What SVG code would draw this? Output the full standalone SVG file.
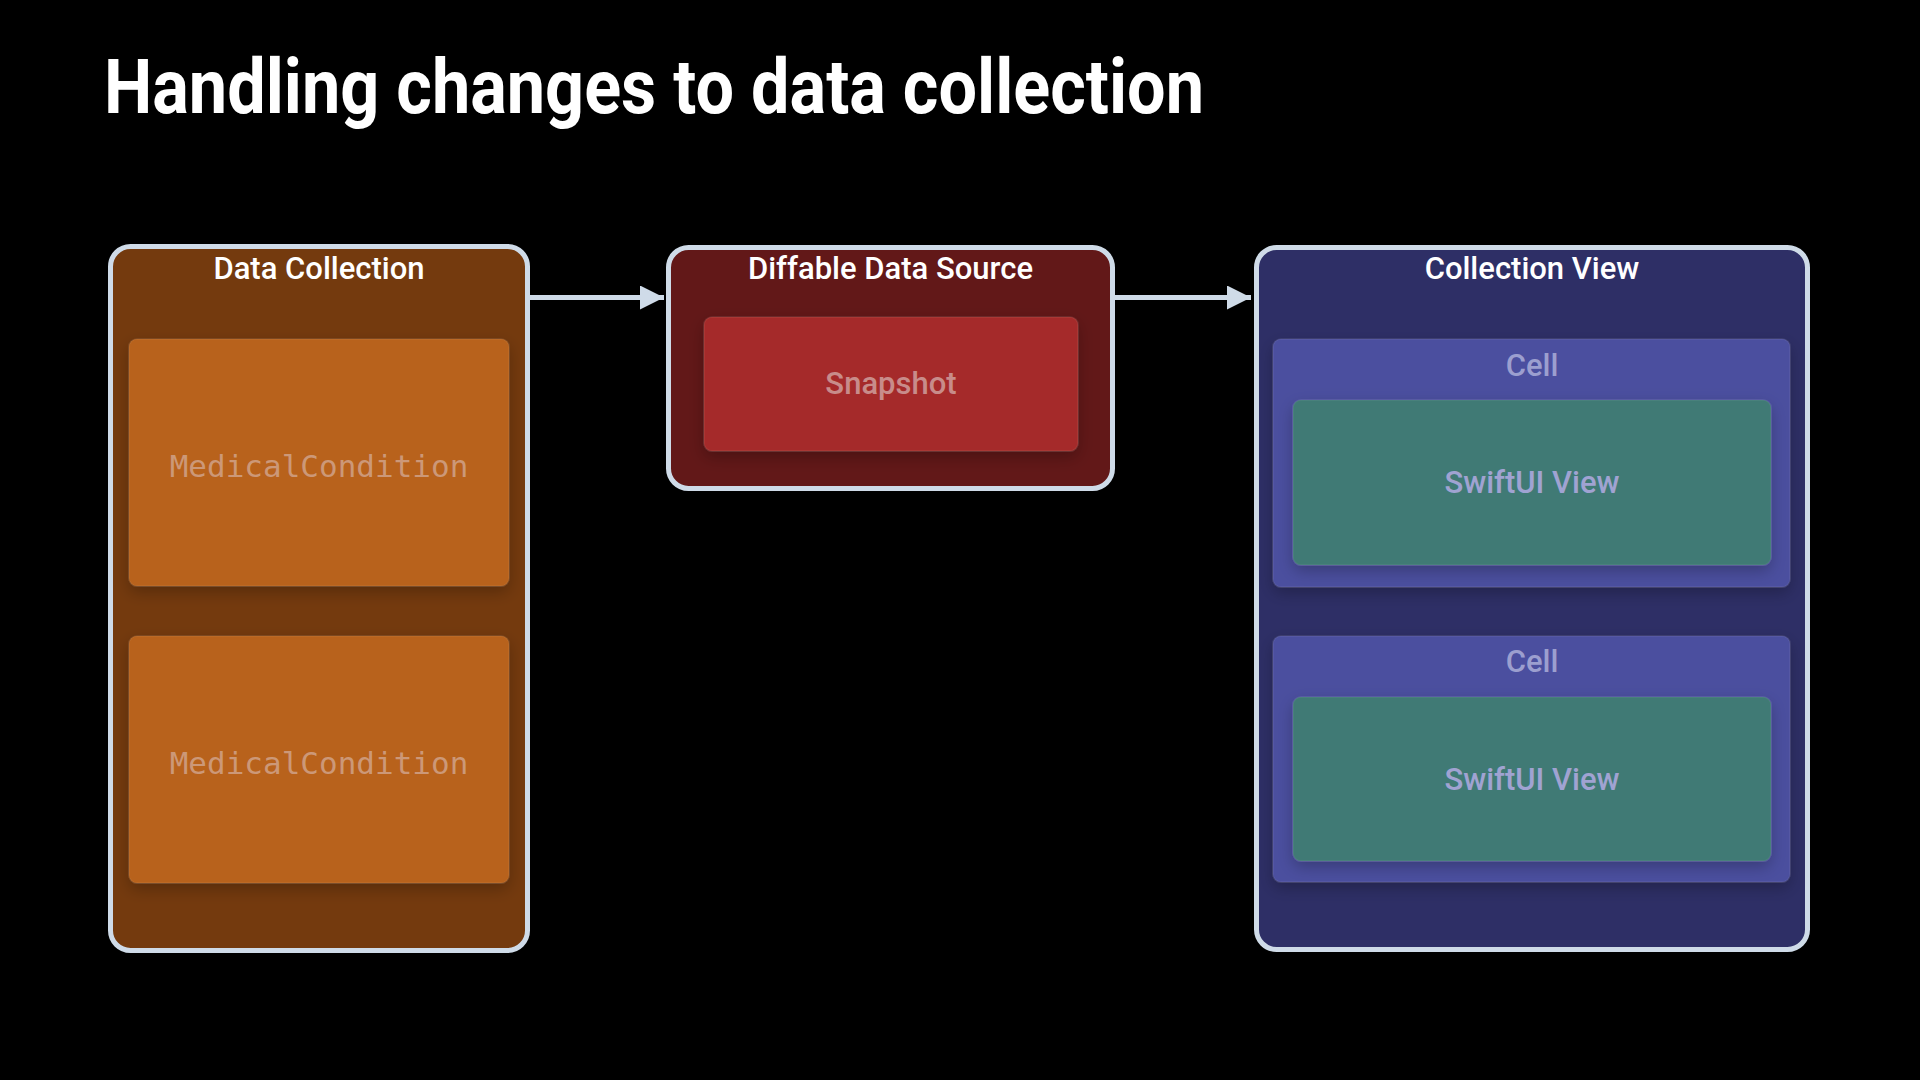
<svg xmlns="http://www.w3.org/2000/svg" width="1920" height="1080" viewBox="0 0 1920 1080">
<defs>
<style>
.title{font-family:Roboto,"Liberation Sans",sans-serif;font-weight:700;font-size:76px;fill:#ffffff}
.outer{stroke:#cfdbe8;stroke-width:5}
.head{font-family:Roboto,"Liberation Sans",sans-serif;font-weight:500;font-size:31px;fill:#ffffff;text-anchor:middle}
.lbl{font-family:Roboto,"Liberation Sans",sans-serif;font-weight:500;font-size:31px;text-anchor:middle}
.mono{font-family:"DejaVu Sans Mono","Liberation Mono",monospace;font-size:31px;fill:#cc9878;text-anchor:middle}
.inner{stroke:#ffffff;stroke-opacity:0.08;stroke-width:1.5}
.conn{stroke:#cfdbe8;stroke-width:5;fill:none}
</style>
<filter id="sh" x="-10%" y="-10%" width="120%" height="130%">
<feDropShadow dx="0" dy="6" stdDeviation="8" flood-color="#000" flood-opacity="0.25"/>
</filter>
<marker id="ah" viewBox="0 0 10 10" refX="10" refY="5" markerWidth="5" markerHeight="4.8" markerUnits="strokeWidth" orient="auto">
<path d="M0,0 L10,5 L0,10 Z" fill="#cfdbe8"/>
</marker>
</defs>
<rect width="1920" height="1080" fill="#000000"/>
<text class="title" x="104" y="113" textLength="1100" lengthAdjust="spacingAndGlyphs">Handling changes to data collection</text>

<g id="connectors">
<line class="conn" x1="530" y1="297.5" x2="664" y2="297.5" marker-end="url(#ah)"/>
<line class="conn" x1="1115" y1="297.5" x2="1251" y2="297.5" marker-end="url(#ah)"/>
</g>

<g id="data-collection">
<rect class="outer" x="110.5" y="246.5" width="417" height="704" rx="20" fill="#743a0e"/>
<text class="head" x="319" y="279">Data Collection</text>
</g>
<g id="medical-condition-1">
<rect class="inner" x="129" y="339" width="380" height="247" rx="8" fill="#b8621a" filter="url(#sh)"/>
<text class="mono" x="319" y="477">MedicalCondition</text>
</g>
<g id="medical-condition-2">
<rect class="inner" x="129" y="636" width="380" height="247" rx="8" fill="#b8621a" filter="url(#sh)"/>
<text class="mono" x="319" y="774">MedicalCondition</text>
</g>

<g id="diffable-data-source">
<rect class="outer" x="668.5" y="247.5" width="444" height="241" rx="20" fill="#621818"/>
<text class="head" x="890.5" y="279">Diffable Data Source</text>
</g>
<g id="snapshot">
<rect class="inner" x="704" y="317" width="374" height="134" rx="8" fill="#a52c2a" filter="url(#sh)"/>
<text class="lbl" x="891" y="394" fill="#c88c8a">Snapshot</text>
</g>

<g id="collection-view">
<rect class="outer" x="1256.5" y="247.5" width="551" height="702" rx="20" fill="#2e2f66"/>
<text class="head" x="1532" y="279">Collection View</text>
</g>
<g id="cell-1">
<rect class="inner" x="1273" y="339" width="517" height="248" rx="8" fill="#4c4f9f" filter="url(#sh)"/>
<text class="lbl" x="1532" y="376" fill="#9c9fcf">Cell</text>
</g>
<g id="swiftui-view-1">
<rect class="inner" x="1293" y="400" width="478" height="165" rx="8" fill="#3f7a74" filter="url(#sh)"/>
<text class="lbl" x="1532" y="493" fill="#a0a3d2">SwiftUI View</text>
</g>
<g id="cell-2">
<rect class="inner" x="1273" y="636" width="517" height="246" rx="8" fill="#4c4f9f" filter="url(#sh)"/>
<text class="lbl" x="1532" y="672" fill="#9c9fcf">Cell</text>
</g>
<g id="swiftui-view-2">
<rect class="inner" x="1293" y="697" width="478" height="164" rx="8" fill="#3f7a74" filter="url(#sh)"/>
<text class="lbl" x="1532" y="790" fill="#a0a3d2">SwiftUI View</text>
</g>
</svg>
